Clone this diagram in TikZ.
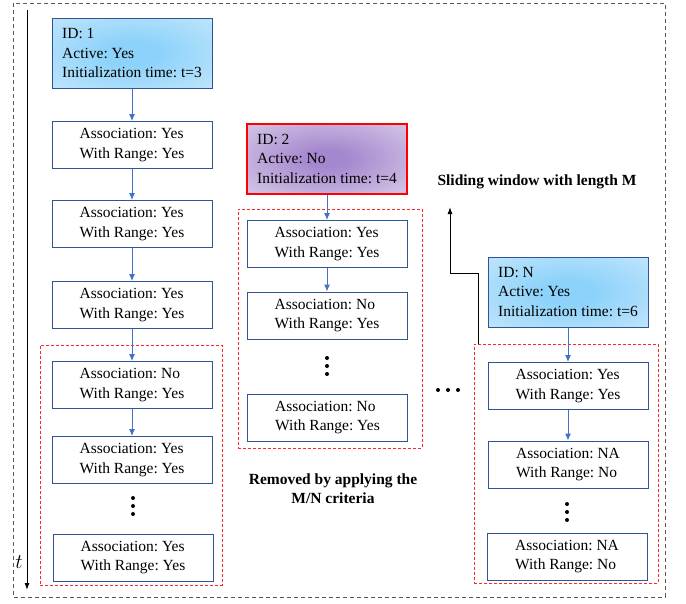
\documentclass[tikz,border=0pt]{standalone}
\usepackage{fontspec}
\setmainfont{Liberation Serif}
\frenchspacing
\usetikzlibrary{arrows, arrows.meta, calc, positioning}
\definecolor{boxBlue}{RGB}{47,85,151}
\definecolor{flowBlue}{RGB}{68,114,196}
\definecolor{skyIn}{RGB}{140,210,250}
\definecolor{skyOut}{RGB}{214,237,253}
\definecolor{lilacIn}{RGB}{165,135,206}
\definecolor{lilacOut}{RGB}{232,226,241}
\definecolor{winRed}{RGB}{255,40,40}
\pgfdeclareradialshading{skyGlow}{\pgfpoint{0bp}{0bp}}{color(0bp)=(skyIn); color(8bp)=(skyIn); color(48bp)=(skyOut); color(50bp)=(skyOut)}
\pgfdeclareradialshading{lilacGlow}{\pgfpoint{0bp}{0bp}}{color(0bp)=(lilacIn); color(6bp)=(lilacIn); color(48bp)=(lilacOut); color(50bp)=(lilacOut)}
\tikzset{
    txt/.style={font=\fontsize{15.5}{19.5}\selectfont},
    headBox/.style={txt, rectangle, draw=boxBlue, line width=1pt, minimum width=160pt, minimum height=70pt, align=left},
    headSky/.style={headBox, shading=skyGlow},
    headLilac/.style={headBox, draw=red, line width=2pt, shading=lilacGlow},
    stateBox/.style={txt, rectangle, draw=boxBlue, line width=1pt, fill=white, minimum width=160pt, minimum height=47pt, align=left},
    winBox/.style={rectangle, draw=winRed, dash pattern=on 3pt off 2pt, line width=0.8pt, inner sep=0pt},
    outerFrame/.style={draw=black!65, dash pattern=on 4pt off 3pt, line width=0.9pt},
    flowEdge/.style={-{Latex[length=7pt, width=6pt]}, flowBlue, line width=1pt},
    timeEdge/.style={-{Latex[length=7pt, width=5pt]}, black, line width=1pt},
    noteText/.style={font=\fontsize{15.5}{19}\selectfont\bfseries, align=center},
}
\newcommand{\drawFlow}[2]{
    \draw[flowEdge] (#1) -- (#2);
}
\newcommand{\drawDots}[2]{
    % three dots round a centre, step #2
    \foreach \k in {-1,0,1} \fill ($(#1)+\k*(#2)$) circle (2pt);
}

\begin{document}
\begin{tikzpicture}[x=1pt, y=-1pt]
    \useasboundingbox (0,0) rectangle (686,603);

    % frame and time axis
    \draw[outerFrame] (13,3) rectangle (665,597);
    \coordinate (t0) at (27,10);
    \coordinate (t1) at (27,590);
    \draw[timeEdge] (t0) -- (t1);
    \node[font=\fontsize{21}{24}\selectfont] (tLabel) at (19,562) {$t$};

    % windows
    \node[winBox, minimum width=182pt, minimum height=240pt] (winL) at (131,465) {};
    \node[winBox, minimum width=184pt, minimum height=239pt] (winM) at (330,328.5) {};
    \node[winBox, minimum width=184pt, minimum height=239pt] (winR) at (566,463.5) {};

    % track 1
    \node[headSky] (h1) at (132,53) {ID: 1\\Active: Yes\\Initialization time: t=3};
    \node[stateBox] (a1) at (132,145) {Association: Yes\\With Range: Yes};
    \node[stateBox] (a2) at (132,224) {Association: Yes\\With Range: Yes};
    \node[stateBox] (a3) at (132,305) {Association: Yes\\With Range: Yes};
    \node[stateBox] (a4) at (132,385) {Association: No\\With Range: Yes};
    \node[stateBox] (a5) at (132,460) {Association: Yes\\With Range: Yes};
    \coordinate (aDots) at (133,506);
    \node[stateBox] (a6) at (133,557.5) {Association: Yes\\With Range: Yes};

    % track 2
    \node[headLilac] (h2) at (327,158.5) {ID: 2\\Active: No\\Initialization time: t=4};
    \node[stateBox] (m1) at (327,244) {Association: Yes\\With Range: Yes};
    \node[stateBox] (m2) at (327,315.5) {Association: No\\With Range: Yes};
    \coordinate (mDots) at (327,366);
    \node[stateBox] (m3) at (327.5,417.5) {Association: No\\With Range: Yes};

    % track N
    \node[headSky] (hN) at (568,292) {ID: N\\Active: Yes\\Initialization time: t=6};
    \node[stateBox] (r1) at (568,386) {Association: Yes\\With Range: Yes};
    \node[stateBox] (r2) at (568,464.5) {Association: NA\\With Range: No};
    \coordinate (rDots) at (567,512);
    \node[stateBox] (r3) at (567,556.5) {Association: NA\\With Range: No};

    \coordinate (hDots) at (448,390);

    \drawFlow{h1}{a1}
    \drawFlow{a1}{a2}
    \drawFlow{a2}{a3}
    \drawFlow{a3}{a4}
    \drawFlow{a4}{a5}
    \drawFlow{h2}{m1}
    \drawFlow{m1}{m2}
    \drawFlow{hN}{r1}
    \drawFlow{r1}{r2}

    \drawDots{aDots}{0,8}
    \drawDots{mDots}{0,8}
    \drawDots{rDots}{0,8}
    \drawDots{hDots}{10,0}

    % sliding window
    \coordinate (swTip) at (450,207);
    \draw[timeEdge] ([xshift=5pt]winR.north west) -- ++(0,-70) -| (swTip);
    \node[noteText] (swText) at (537,182) {Sliding window with length M};
    \node[noteText] (rmText) at (333,489) {Removed by applying the\\M/N criteria};
\end{tikzpicture}
\end{document}
